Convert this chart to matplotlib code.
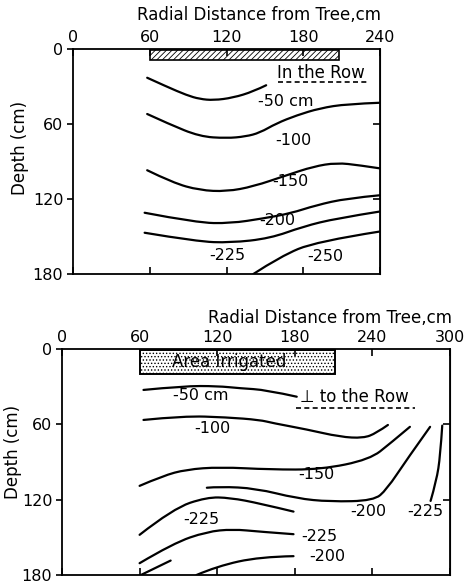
import matplotlib
matplotlib.use("Agg")
import matplotlib.pyplot as plt
from matplotlib.patches import Rectangle, PathPatch
from matplotlib.path import Path

plt.rcParams['font.family'] = ['DejaVu Sans']
plt.rcParams['hatch.linewidth'] = 0.6

# ---- donnees : panneau du haut (dans le rang), x = distance (cm), d = profondeur (cm)
row_x_ticks = [0, 60, 120, 180, 240]
depth_ticks = [0, 60, 120, 180]

row_m50_x = [58, 73, 89, 99, 110, 125, 141, 151]
row_m50_d = [23, 30, 37, 40, 41, 39, 34, 29]
row_m100_x = [58, 75, 99, 120, 135, 146, 159, 175, 193, 214, 240]
row_m100_d = [52, 60, 70, 71.4, 70, 67, 59.5, 53, 47.4, 44, 43]
row_m150_x = [58, 78, 99, 120, 141, 167, 188, 206, 224, 240]
row_m150_d = [97, 107, 113, 114, 110, 101, 94, 91, 93, 95.5]
row_m200_x = [56, 97, 123, 149, 170, 190, 214, 240]
row_m200_d = [131, 139, 139.5, 135.5, 131.5, 125, 119.5, 117]
row_m225_x = [56, 97, 123, 154, 180, 206, 240]
row_m225_d = [147, 154, 155, 151.5, 142, 135.5, 130]
row_m250_x = [141, 162, 190, 240]
row_m250_d = [180, 166, 154, 146]

row_labels = ["-50 cm", "-100", "-150", "-200", "-225", "-250"]
row_label_x = [166, 172, 170, 160, 121, 197]
row_label_d = [42, 73, 106, 137, 165, 166]

# ---- donnees : panneau du bas (perpendiculaire au rang)
perp_x_ticks = [0, 60, 120, 180, 240, 300]

perp_m50_x = [63, 94, 120, 138, 158, 181.5]
perp_m50_d = [32.6, 29.5, 29.5, 31.3, 32.6, 38]
perp_m100_x = [63, 94, 127, 153, 163, 189, 215, 233, 243, 252]
perp_m100_d = [56.5, 53.3, 54.4, 56.5, 59, 64, 70, 71, 67, 60.5]
perp_m150_x = [60, 78, 96, 122, 161, 200, 238, 254, 269]
perp_m150_d = [109, 101, 96, 94, 96, 96, 88, 75, 62]
perp_m200r_x = [112, 122, 150, 181.5, 207, 241, 251, 266.6, 284.6]
perp_m200r_d = [110.5, 109.6, 111, 119, 121.6, 120.8, 112, 88, 62]
perp_m225r_x = [294, 292.5, 289.5, 285]
perp_m225r_d = [61, 85, 105, 121]
perp_m225a_x = [60, 86, 112, 130, 153, 179]
perp_m225a_d = [148, 127, 118, 118.5, 123, 129.5]
perp_m225b_x = [60, 86, 112, 132, 153, 179]
perp_m225b_d = [170.6, 154.7, 145.5, 143.5, 145.5, 147.5]
perp_m200b_x = [104, 120, 153, 179]
perp_m200b_d = [180, 173, 165.5, 165]
perp_low_x = [61, 72, 84]
perp_low_d = [180, 174.5, 168.5]

perp_labels = ["-50 cm", "-100", "-150", "-200", "-225", "-225", "-225", "-200"]
perp_label_x = [107, 116, 197, 237, 281, 108, 199, 205]
perp_label_d = [37, 63, 100, 129.5, 129.5, 136, 149.5, 165]

# ---- figure
fig = plt.figure(figsize=(4.69, 5.84), dpi=100)
ax1 = fig.add_axes([73/469, 1-274/584, 307/469, 225/584])
ax2 = fig.add_axes([62/469, 1-575/584, 388/469, 226/584])

def habiller(ax, xmax, xticks):
    ax.set_xlim(0, xmax)
    ax.set_ylim(180, 0)
    ax.set_xticks(xticks)
    ax.set_yticks(depth_ticks)
    ax.tick_params(axis='x', top=True, bottom=True, labeltop=True,
                   labelbottom=False, direction='in', length=5, width=1.2,
                   labelsize=11.5, pad=3)
    ax.tick_params(axis='y', left=True, right=False, direction='out',
                   length=4, width=1.2, labelsize=11.5, pad=3)
    for s in ax.spines.values():
        s.set_linewidth(1.3)
    droite = ax.secondary_yaxis('right')
    droite.set_yticks([60, 120])
    droite.tick_params(direction='in', length=5, width=1.2, labelright=False)

def courbe(ax, xs, ds):
    # trace lisse : les points lus servent de points de controle (courbes quadratiques)
    pts = list(zip(xs, ds))
    verts = [pts[0]]
    codes = [Path.MOVETO]
    for i in range(1, len(pts) - 1):
        milieu = ((pts[i][0] + pts[i+1][0]) / 2, (pts[i][1] + pts[i+1][1]) / 2)
        if i == len(pts) - 2:
            milieu = pts[i+1]
        verts += [pts[i], milieu]
        codes += [Path.CURVE3, Path.CURVE3]
    if len(pts) == 2:
        verts.append(pts[1])
        codes.append(Path.LINETO)
    ax.add_patch(PathPatch(Path(verts, codes), facecolor='none',
                           edgecolor='black', lw=1.6, capstyle='round'))

habiller(ax1, 240, row_x_ticks)
habiller(ax2, 300, perp_x_ticks)

# panneau du haut
ax1.add_patch(Rectangle((60, 0.8), 148, 8.2, facecolor='white',
                        edgecolor='black', lw=1.2, hatch='//////'))
for xs, ds in [(row_m50_x, row_m50_d), (row_m100_x, row_m100_d),
               (row_m150_x, row_m150_d), (row_m200_x, row_m200_d),
               (row_m225_x, row_m225_d), (row_m250_x, row_m250_d)]:
    courbe(ax1, xs, ds)
for s, x, d in zip(row_labels, row_label_x, row_label_d):
    ax1.text(x, d, s, ha='center', va='center', fontsize=11.5)
ax1.text(194, 19, "In the Row", ha='center', va='center', fontsize=12)
ax1.plot([160, 230], [26, 26], color='black', lw=1.2, ls=(0, (3, 2)))

# panneau du bas
ax2.add_patch(Rectangle((60, 0.5), 151, 19.5, facecolor='white',
                        edgecolor='black', lw=1.4, hatch='.....'))
ax2.text(129, 10, "Area Irrigated", ha='center', va='center', fontsize=12)
for xs, ds in [(perp_m50_x, perp_m50_d), (perp_m100_x, perp_m100_d),
               (perp_m150_x, perp_m150_d), (perp_m200r_x, perp_m200r_d),
               (perp_m225r_x, perp_m225r_d), (perp_m225a_x, perp_m225a_d),
               (perp_m225b_x, perp_m225b_d), (perp_m200b_x, perp_m200b_d),
               (perp_low_x, perp_low_d)]:
    courbe(ax2, xs, ds)
for s, x, d in zip(perp_labels, perp_label_x, perp_label_d):
    ax2.text(x, d, s, ha='center', va='center', fontsize=11.5)
ax2.text(226, 38, "\u22a5 to the Row", ha='center', va='center', fontsize=12)
ax2.plot([181, 273], [47, 47], color='black', lw=1.2, ls=(0, (3, 2)))

# titres
fig.text(259/469, 1-15/584, "Radial Distance from Tree,cm", ha='center',
         va='center', fontsize=12)
fig.text(330/469, 1-318/584, "Radial Distance from Tree,cm", ha='center',
         va='center', fontsize=12)
fig.text(20/469, 1-148/584, "Depth (cm)", rotation=90, ha='center',
         va='center', fontsize=12)
fig.text(13/469, 1-452/584, "Depth (cm)", rotation=90, ha='center',
         va='center', fontsize=12)

fig.savefig("out.png", dpi=100)
